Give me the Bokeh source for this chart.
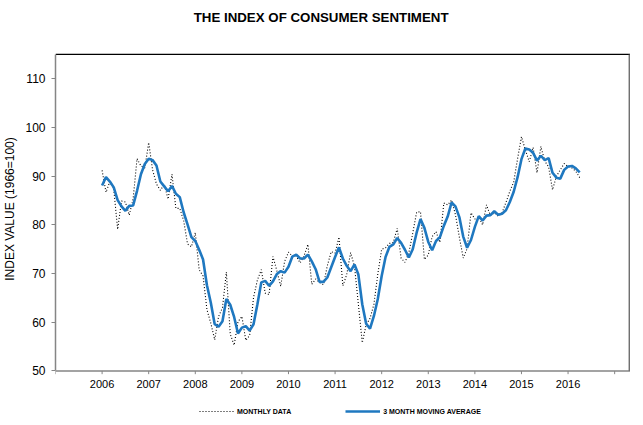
from bokeh.plotting import figure
from bokeh.models import (FixedTicker, Legend, LegendItem, Range1d, Label)
from bokeh.core.properties import value
from bokeh.embed import file_html
from bokeh.resources import INLINE

# ---- data (monthly index, Jan 2006 .. Apr 2016) ----
start_year = 2006
monthly = [
    91.2, 86.7, 88.9, 87.4, 79.1, 84.9, 84.7, 82.0, 85.4, 93.6, 92.1, 91.7,   # 2006
    96.9, 91.3, 88.4, 87.1, 88.3, 85.3, 90.4, 83.4, 83.4, 80.9, 76.1, 75.5,   # 2007
    78.4, 70.8, 69.5, 62.6, 59.8, 56.4, 61.2, 63.0, 70.3, 57.6, 55.3, 60.1,   # 2008
    61.2, 56.3, 57.3, 65.1, 68.7, 70.8, 66.0, 65.7, 73.5, 70.6, 67.4, 72.5,   # 2009
    74.4, 73.6, 73.6, 72.2, 73.6, 76.0, 67.8, 68.9, 68.2, 67.7, 71.6, 74.5,   # 2010
    74.2, 77.5, 67.5, 69.8, 74.3, 71.5, 63.7, 55.8, 59.5, 60.8, 63.7, 69.9,   # 2011
    75.0, 75.3, 76.2, 76.4, 79.3, 73.2, 72.3, 74.3, 78.3, 82.6, 82.7, 72.9,   # 2012
    73.8, 77.6, 78.6, 76.4, 84.5, 84.1, 85.1, 82.1, 77.5, 73.2, 75.1, 82.5,   # 2013
    81.2, 81.6, 80.0, 84.1, 81.9, 82.5, 81.8, 82.5, 84.6, 86.9, 88.8, 93.6,   # 2014
    98.1, 95.4, 93.0, 95.9, 90.7, 96.1, 93.1, 91.9, 87.2, 90.0, 91.3, 92.6,   # 2015
    92.0, 91.7, 91.0, 89.7,                                                   # 2016
]
moving_avg = [
    88.1, 89.8, 88.9, 87.7, 85.1, 83.8, 82.9, 83.9, 84.0, 87.0, 90.4, 92.5,   # 2006
    93.6, 93.3, 92.2, 88.9, 87.9, 86.9, 88.0, 86.4, 85.7, 82.6, 80.1, 77.5,   # 2007
    76.7, 74.9, 72.9, 67.6, 64.0, 59.6, 59.1, 60.2, 64.8, 63.6, 61.1, 57.7,   # 2008
    58.9, 59.2, 58.3, 59.6, 63.7, 68.2, 68.5, 67.5, 68.4, 69.9, 70.5, 70.2,   # 2009
    71.4, 73.5, 73.9, 73.1, 73.1, 73.9, 72.5, 70.9, 68.3, 68.3, 69.2, 71.3,   # 2010
    73.4, 75.4, 73.1, 71.6, 70.5, 71.9, 69.8, 63.7, 59.7, 58.7, 61.3, 64.8,   # 2011
    69.5, 73.4, 75.5, 76.0, 77.3, 76.3, 74.9, 73.3, 75.0, 78.4, 81.2, 79.4,   # 2012
    76.5, 74.8, 76.7, 77.5, 79.8, 81.7, 84.6, 83.8, 81.6, 77.6, 75.3, 76.9,   # 2013
    79.6, 81.8, 80.9, 81.9, 82.0, 82.8, 82.1, 82.3, 83.0, 84.7, 86.8, 89.8,   # 2014
    93.5, 95.7, 95.5, 94.8, 93.2, 94.2, 93.3, 93.7, 90.7, 89.7, 89.5, 91.3,   # 2015
    92.0, 92.1, 91.6, 90.8,                                                   # 2016
]
year_ticks = list(range(2005, 2018))
year_labels = ["", "2006", "2007", "2008", "2009", "2010", "2011", "2012",
               "2013", "2014", "2015", "2016", ""]
y_ticks = [50, 60, 70, 80, 90, 100, 110]

title_text = "THE INDEX OF CONSUMER SENTIMENT"
y_label = "INDEX VALUE (1966=100)"
legend_labels = ["MONTHLY DATA", "3 MONTH MOVING AVERAGE"]

# plot-area limits of the chart
X_MIN, X_MAX = 2005.0, 2017.34
Y_MIN, Y_MAX = 50, 115

x_dates = [start_year + i / 12 for i in range(len(monthly))]
x_ma = [start_year + i / 12 for i in range(len(moving_avg))]

FONT = "Liberation Sans"
GRAY = "#858585"
BLUE = "#1f78c0"

# the frame covers the whole height so title and legend can live inside it
p = figure(width=630, height=417,
           x_range=Range1d(X_MIN, X_MAX), y_range=Range1d(40.45, 126.08),
           x_axis_type=None,
           output_backend="svg", toolbar_location=None,
           min_border_left=50, min_border_right=0,
           min_border_top=0, min_border_bottom=0)
p.outline_line_color = None
p.grid.visible = False
p.background_fill_color = "white"
p.border_fill_color = "white"

# ---- y axis (left panel) ----
ya = p.yaxis[0]
ya.ticker = FixedTicker(ticks=y_ticks)
ya.bounds = (Y_MIN, Y_MAX)
ya.major_label_text_font = FONT
ya.major_label_text_font_size = "12px"
ya.major_label_text_color = "black"
ya.major_label_standoff = 6
ya.axis_line_color = GRAY
ya.axis_line_width = 1.5
ya.major_tick_line_color = GRAY
ya.major_tick_out = 4
ya.major_tick_in = 0
ya.minor_tick_line_color = None
ya.axis_label = y_label
ya.axis_label_text_font = FONT
ya.axis_label_text_font_size = "12px"
ya.axis_label_text_font_style = "normal"
ya.axis_label_text_color = "black"
ya.axis_label_standoff = 5

# ---- x axis line, ticks and year labels ----
p.segment(x0=[X_MIN], y0=[Y_MIN], x1=[X_MAX], y1=[Y_MIN], line_color=GRAY, line_width=1.5)
p.segment(x0=year_ticks, y0=[Y_MIN] * len(year_ticks), x1=year_ticks,
          y1=[Y_MIN - 0.65] * len(year_ticks), line_color=GRAY, line_width=1)
p.text(x=year_ticks, y=[Y_MIN] * len(year_ticks), text=year_labels,
       text_font=value(FONT), text_font_size="11px", text_color="black",
       text_align="center", text_baseline="middle", y_offset=13)

# ---- frame top (black) and right (gray) edges ----
p.segment(x0=[X_MIN], y0=[Y_MAX], x1=[X_MAX], y1=[Y_MAX], line_color="black", line_width=1.3)
p.segment(x0=[X_MAX - 0.02], y0=[Y_MIN], x1=[X_MAX - 0.02], y1=[Y_MAX],
          line_color="#707070", line_width=2)

# ---- series ----
r_month = p.line(x_dates, monthly, line_color="black", line_width=1.1, line_dash="1 2")
r_ma = p.line(x_ma, moving_avg, line_color=BLUE, line_width=2.6)

# ---- title ----
p.add_layout(Label(x=(X_MIN + X_MAX) / 2 - 0.47, y=122.6, text=title_text,
                   text_font=FONT, text_font_size="13.3px", text_font_style="bold",
                   text_color="black", text_align="center", text_baseline="middle"))

# ---- legend ----
legend = Legend(items=[LegendItem(label=legend_labels[0], renderers=[r_month]),
                       LegendItem(label=legend_labels[1], renderers=[r_ma])],
                orientation="horizontal", location=(144, 2),
                label_text_font=FONT, label_text_font_size="7px",
                label_text_font_style="bold", label_text_color="black",
                glyph_width=35, glyph_height=8, label_height=8,
                label_standoff=3, spacing=54,
                padding=0, margin=0, border_line_color=None,
                background_fill_alpha=0)
p.add_layout(legend, "center")

open("out.html", "w").write(file_html(p, INLINE))
